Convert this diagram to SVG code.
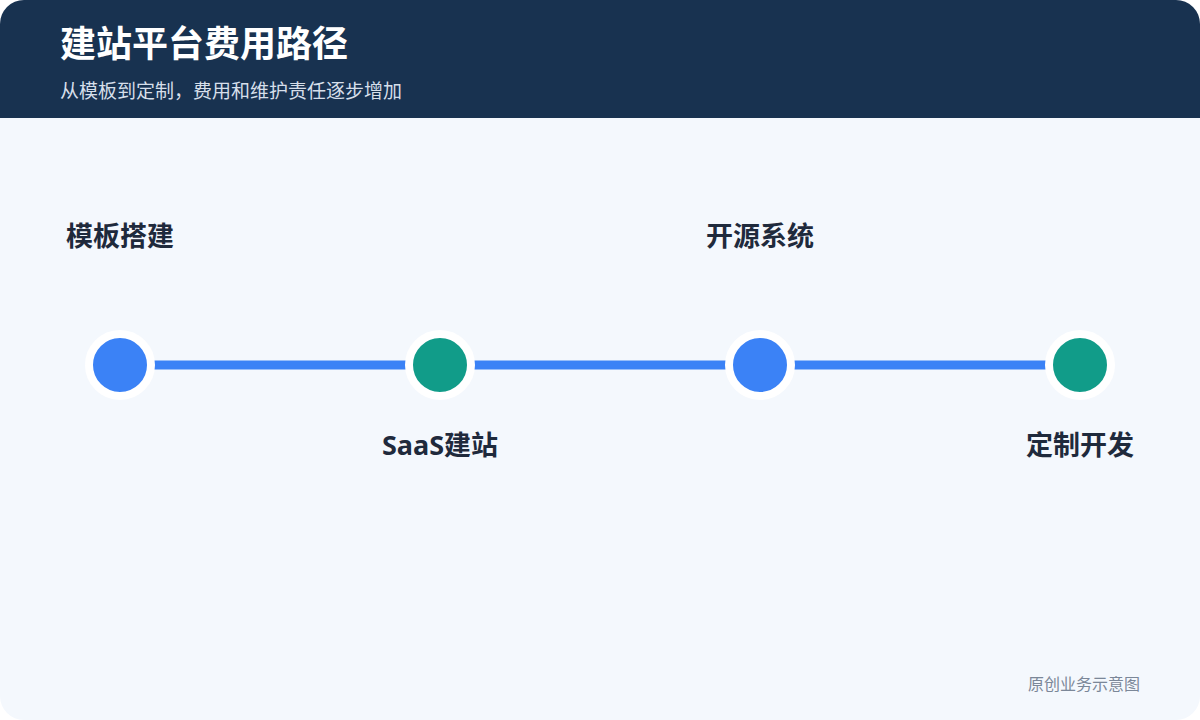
<svg xmlns="http://www.w3.org/2000/svg" width="1200" height="720" viewBox="0 0 1200 720">
<style>
.title{font-family:"Noto Sans CJK SC","Noto Sans",sans-serif;font-weight:700;font-size:36px;fill:#ffffff}
.sub{font-family:"Noto Sans CJK SC","Noto Sans",sans-serif;font-size:19px;fill:#d6dfea}
.lbl{font-family:"Noto Sans","Noto Sans CJK SC",sans-serif;font-weight:700;font-size:27px;fill:#1f2a3c;text-anchor:middle}
.foot{font-family:"Noto Sans CJK SC","Noto Sans",sans-serif;font-size:16px;fill:#7b8798;text-anchor:end}
.blue{fill:#3b82f6;stroke:#ffffff;stroke-width:8}
.green{fill:#119c89;stroke:#ffffff;stroke-width:8}
.conn{stroke:#3b82f6;stroke-width:9;fill:none}
</style>
<defs>
<clipPath id="cp"><rect x="0" y="0" width="1200" height="720" rx="24"/></clipPath>
</defs>
<rect width="1200" height="720" fill="#ffffff"/>
<g clip-path="url(#cp)">
<rect width="1200" height="720" fill="#f4f8fd"/>
<rect width="1200" height="118" fill="#183250"/>
</g>
<text class="title" x="60" y="57">建站平台费用路径</text>
<text class="sub" x="60" y="98">从模板到定制，费用和维护责任逐步增加</text>
<g id="connectors">
<line class="conn" x1="120" y1="365" x2="440" y2="365"/>
<line class="conn" x1="440" y1="365" x2="760" y2="365"/>
<line class="conn" x1="760" y1="365" x2="1080" y2="365"/>
</g>
<g id="node-template">
<circle class="blue" cx="120" cy="365" r="31"/>
<text class="lbl" x="120" y="246">模板搭建</text>
</g>
<g id="node-saas">
<circle class="green" cx="440" cy="365" r="31"/>
<text class="lbl" x="440" y="455">SaaS建站</text>
</g>
<g id="node-opensource">
<circle class="blue" cx="760" cy="365" r="31"/>
<text class="lbl" x="760" y="246">开源系统</text>
</g>
<g id="node-custom">
<circle class="green" cx="1080" cy="365" r="31"/>
<text class="lbl" x="1080" y="455">定制开发</text>
</g>
<text class="foot" x="1140" y="690">原创业务示意图</text>
</svg>
